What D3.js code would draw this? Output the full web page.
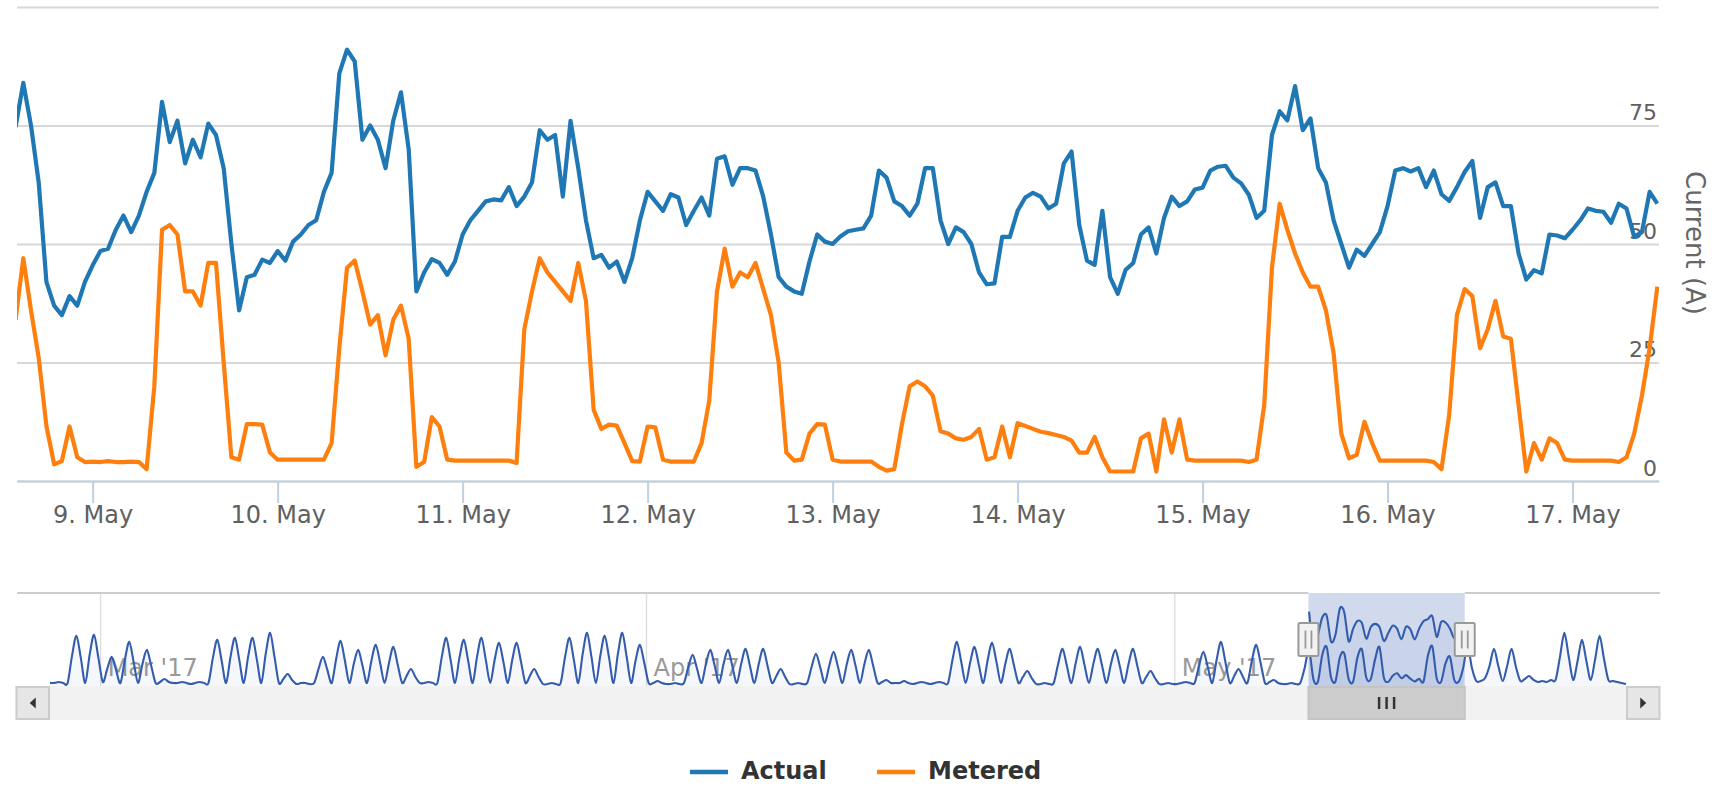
<!DOCTYPE html>
<html>
<head>
<meta charset="utf-8">
<script src="https://cdn.jsdelivr.net/npm/d3@7"></script>
<style>
  body { margin: 0; background: #fff; }
  #chart { width: 1736px; height: 786px; }
  text { font-family: "DejaVu Sans", sans-serif; }
</style>
</head>
<body>
<div id="chart"></div>
<script>
const HOUR = 3600 * 1000;

// Hourly readings (A), first value at 8 May 2017 14:00 UTC
const seriesStart = Date.UTC(2017, 4, 8, 14);
const viewRange = [Date.UTC(2017, 4, 8, 14, 11), Date.UTC(2017, 4, 17, 11, 13)];

const actualValues = [
    74.7, 84, 75, 63, 42, 37, 35, 39, 37, 42,
    45.5, 48.5, 49, 53, 56, 52.5, 56, 61, 65, 80,
    71.5, 76, 67, 72, 68.3, 75.4, 73, 66, 50, 36,
    43, 43.5, 46.7, 46, 48.5, 46.5, 50.5, 52, 54, 55,
    61, 65, 86, 91, 88.5, 72, 75, 72, 66, 76,
    82, 70, 40, 44, 46.8, 46, 43.5, 46.3, 52, 55,
    57, 59, 59.4, 59.2, 62, 58, 60, 63, 74, 72,
    73, 60, 76, 66, 55, 47, 47.7, 45, 46.3, 42,
    47, 55, 61, 59, 57, 60.5, 59.8, 54, 57, 59.8,
    56, 68, 68.5, 62.5, 66, 66, 65.5, 60, 52, 43,
    41, 40, 39.5, 46.3, 52, 50.5, 50, 51.6, 52.7, 53,
    53.3, 56, 65.5, 64, 59, 58, 56, 58.5, 66, 66,
    55, 50, 53.5, 52.5, 50, 44, 41.5, 41.7, 51.5, 51.5,
    57, 59.8, 60.8, 60, 57.5, 58.5, 67, 69.5, 54, 46.5,
    45.6, 57, 43, 39.5, 44.5, 46, 52, 53.5, 48, 55.5,
    60, 58, 59, 61.5, 61.9, 65.5, 66.3, 66.5, 64, 62.8,
    60.4, 55.5, 57, 73, 78, 76.1, 83.3, 74, 76.5, 66,
    63, 55, 50, 45, 48.8, 47.5, 50, 52.5, 58, 65.5,
    66, 65.3, 66, 62, 65.5, 60.5, 59.1, 62, 65.2, 67.5,
    55.5, 62, 63, 58, 58, 48, 42.5, 44.5, 43.8, 52,
    51.8, 51.2, 53, 55, 57.5, 57, 56.8, 54.5, 58.5, 57.5,
    51.5, 52.5, 61, 58.5
];

const meteredValues = [
    34, 47, 36, 26, 11.6, 3.5, 4.2, 11.5, 5, 4,
    4.1, 4, 4.2, 4, 4, 4.1, 4, 2.5, 20, 53,
    54, 52, 40, 40, 37, 46, 46, 25, 5, 4.5,
    12, 12, 11.9, 6, 4.5, 4.5, 4.5, 4.5, 4.5, 4.5,
    4.5, 8, 28, 45, 46.5, 40, 33, 35, 26.5, 34,
    37, 30, 3, 4, 13.5, 11.5, 4.5, 4.3, 4.3, 4.3,
    4.3, 4.3, 4.3, 4.3, 4.3, 3.8, 32, 40, 47, 44,
    42, 40, 38, 46, 38, 15, 11, 11.9, 11.7, 8,
    4.2, 4.1, 11.5, 11.3, 4.5, 4.1, 4.1, 4.1, 4.1, 8,
    17, 40, 49, 41, 44, 43, 46, 40.5, 35, 25,
    6, 4.3, 4.5, 10, 12, 11.9, 4.5, 4.1, 4.1, 4.1,
    4.1, 4.1, 3, 2.2, 2.5, 12, 20, 21, 20, 18,
    10.5, 10, 9, 8.7, 9.3, 11, 4.5, 5, 11.5, 5,
    12.2, 11.6, 11, 10.4, 10.1, 9.7, 9.3, 8.5, 6, 6,
    9.3, 5, 2, 2, 2, 2, 9, 10, 2, 13,
    6, 13, 4.5, 4.3, 4.3, 4.3, 4.3, 4.3, 4.3, 4.3,
    4, 4.5, 16, 45, 58.5, 53, 48, 44, 41, 41,
    36, 27, 10, 4.8, 5.5, 12.5, 8, 4.3, 4.3, 4.3,
    4.3, 4.3, 4.3, 4.3, 4, 2.5, 14, 35, 40.5, 39,
    28, 32, 38, 30.5, 30, 16, 2, 8, 4.5, 9,
    8, 4.5, 4.3, 4.3, 4.3, 4.3, 4.3, 4.3, 4, 5,
    10, 18, 28, 41
];

const yTicks = [0, 25, 50, 75, 100];
const seriesNames = ['Actual', 'Metered'];

// Navigator history, one value every 6 hours (03, 09, 15, 21 h), from 26 Feb 03:00
const navBeforeStart = Date.UTC(2017, 1, 26, 3);
const navBeforeValues = [
    3, 3, 4, 3,   3, 30, 50, 28,   3, 31, 51, 28,
    4, 17, 29, 16,   3, 26, 44, 24,   3, 22, 36, 20,   3, 4, 7, 4,   3, 3, 4, 3,
    2, 3, 4, 3,   3, 28, 46, 25,   3, 29, 48, 26,   3, 29, 48, 26,   3, 32, 53, 29,   3, 7, 12, 6,   2, 3, 3, 2,
    3, 17, 29, 16,   3, 27, 45, 25,   3, 22, 36, 20,   3, 25, 41, 23,   3, 23, 39, 21,   3, 10, 17, 9,   3, 3, 4, 3,
    3, 29, 48, 26,   3, 28, 46, 25,   3, 29, 48, 26,   3, 26, 43, 24,   3, 26, 43, 24,   3, 10, 17, 9,   2, 2, 3, 2,
    3, 29, 48, 26,   3, 32, 53, 29,   3, 30, 50, 28,   3, 32, 53, 29,   3, 25, 41, 23,   3, 3, 5, 3,   2, 2, 3, 2,
    3, 19, 31, 17,   3, 22, 36, 20,   3, 22, 36, 20,   3, 22, 37, 20,   3, 22, 37, 20,   3, 10, 17, 9,   2, 2, 3, 2,
    3, 19, 32, 18,   3, 20, 34, 19,   3, 22, 36, 20,   3, 22, 36, 20,   3, 4, 6, 3,   3, 3, 5, 3,   2, 3, 4, 3,
    2, 3, 4, 3,   3, 26, 44, 24,   3, 23, 39, 21,   3, 26, 43, 24,   3, 22, 37, 20,   3, 9, 15, 8,   2, 2, 3, 2,
    3, 22, 37, 20,   3, 23, 39, 21,   3, 22, 37, 20,   3, 22, 36, 20,   3, 22, 37, 20,   3, 9, 15, 8,   2, 2, 3, 2,
    2, 3, 4, 3,   3, 20, 34, 19,   3, 26, 44, 24,   3, 10, 17, 9,   3, 25, 41, 23,   3, 4, 6, 3,   2, 2, 3, 2,
    3, 18
];

// Navigator history after the loaded range, from 17 May 15:00
const navAfterStart = Date.UTC(2017, 4, 17, 15);
const navAfterValues = [
    40, 18,
    5, 5, 8, 20,   37, 20, 5, 20,   37, 19, 5, 7,   10, 6, 4, 5,
    4, 6, 6, 29,   53, 29, 6, 25,   46, 25, 6, 27,   50, 27, 6, 5,
    4, 3, 2
];

const config = {
    colors: ['#1f77b4', '#ff7f0e'],
    gridColor: '#d8d8d8',
    axisColor: '#c0d0e0',
    labelColor: '#606060',
    navLine: '#335cad',
    maskFill: 'rgba(102,133,194,0.3)'
};

class CurrentChart {
    constructor(containerId) {
        this.width = 1736;
        this.height = 786;
        this.plot = { left: 17, right: 1659, top: 7, bottom: 481 };
        this.nav = { left: 50, right: 1626, top: 593, bottom: 686, barBottom: 720, outerLeft: 15.5, outerRight: 1660 };

        this.svg = d3.select(`#${containerId}`).append('svg')
            .attr('width', this.width)
            .attr('height', this.height)
            .style('background', '#fff');
    }

    render() {
        this._drawMain();
        this._drawNavigator();
        this._drawLegend();
    }

    _hourly(values) {
        return values.map((v, i) => ({ t: new Date(seriesStart + i * HOUR), v }));
    }

    _sixHourly(start, values) {
        return values.map((v, i) => ({ t: new Date(start + i * 6 * HOUR), v }));
    }

    // mean of the hourly readings in 6 hour buckets, like the navigator's data grouping
    _group(values) {
        const bins = d3.rollups(this._hourly(values), g => d3.mean(g, d => d.v),
            d => Math.floor(d.t.getTime() / (6 * HOUR)));
        return bins.map(([k, v]) => ({ t: new Date(k * 6 * HOUR + 3 * HOUR), v }));
    }

    _drawMain() {
        const p = this.plot;
        const svg = this.svg;

        const x = d3.scaleUtc().domain(viewRange).range([p.left, p.right]);
        const y = d3.scaleLinear().domain([0, 100]).range([p.bottom, p.top]);

        // grid + right hand labels
        const yAxis = svg.append('g')
            .attr('transform', `translate(${p.left},0)`)
            .call(d3.axisRight(y).tickValues(yTicks).tickSize(p.right - p.left));
        yAxis.select('.domain').remove();
        yAxis.selectAll('line').attr('stroke', config.gridColor).attr('stroke-width', 2);
        yAxis.selectAll('text')
            .attr('x', p.right - p.left - 2)
            .attr('dy', null)
            .attr('y', -6)
            .attr('text-anchor', 'end')
            .attr('fill', config.labelColor)
            .style('font-size', '22px')
            .style('font-family', '"DejaVu Sans", sans-serif');
        yAxis.selectAll('.tick').filter(d => d === 100).select('text').remove();

        svg.append('text')
            .attr('transform', `translate(1686,243) rotate(90)`)
            .attr('text-anchor', 'middle')
            .attr('fill', '#666')
            .style('font-size', '26px')
            .text('Current (A)');

        // x axis
        const xAxis = svg.append('g')
            .attr('transform', `translate(0,${p.bottom})`)
            .call(d3.axisBottom(x)
                .ticks(d3.utcDay.every(1))
                .tickFormat(d3.utcFormat('%-d. %b'))
                .tickSize(22)
                .tickSizeOuter(0)
                .tickPadding(3));
        xAxis.select('.domain').attr('stroke', config.axisColor).attr('stroke-width', 2);
        xAxis.selectAll('line').attr('stroke', config.axisColor).attr('stroke-width', 2);
        xAxis.selectAll('text')
            .attr('fill', config.labelColor)
            .style('font-size', '24px')
            .style('font-family', '"DejaVu Sans", sans-serif');

        svg.append('clipPath').attr('id', 'plot-clip')
            .append('rect')
            .attr('x', p.left).attr('y', 0)
            .attr('width', p.right - p.left).attr('height', p.bottom + 8);

        const line = d3.line()
            .x(d => x(d.t))
            .y(d => y(d.v));

        [actualValues, meteredValues].forEach((values, i) => {
            svg.append('path')
                .datum(this._hourly(values))
                .attr('clip-path', 'url(#plot-clip)')
                .attr('d', line)
                .attr('fill', 'none')
                .attr('stroke', config.colors[i])
                .attr('stroke-width', 4.2)
                .attr('stroke-linejoin', 'round');
        });
    }

    _drawNavigator() {
        const n = this.nav;
        const svg = this.svg;

        const meteredNav = [
            ...this._sixHourly(navBeforeStart, navBeforeValues),
            ...this._group(meteredValues),
            ...this._sixHourly(navAfterStart, navAfterValues)
        ];
        const actualNav = this._group(actualValues);

        const nx = d3.scaleUtc()
            .domain(d3.extent(meteredNav, d => d.t))
            .range([n.left, n.right]);
        const maxNav = d3.max([...meteredNav, ...actualNav], d => d.v);
        const ny = d3.scaleLinear().domain([0, maxNav * 1.2]).range([n.bottom, n.top]);

        const maskL = nx(viewRange[0]);
        const maskR = nx(viewRange[1]);

        // mask
        svg.append('rect')
            .attr('x', maskL).attr('y', n.top)
            .attr('width', maskR - maskL).attr('height', n.bottom - n.top)
            .attr('fill', config.maskFill);

        // month grid + labels
        const months = nx.ticks(d3.utcMonth.every(1));
        const fmt = d3.utcFormat("%b '%y");
        const g = svg.append('g');
        g.selectAll('line.month')
            .data(months)
            .enter()
            .append('line')
            .attr('class', 'month')
            .attr('x1', d => nx(d)).attr('x2', d => nx(d))
            .attr('y1', n.top).attr('y2', n.bottom)
            .attr('stroke', '#dcdcdc')
            .attr('stroke-width', 1.3);
        g.selectAll('text.month')
            .data(months)
            .enter()
            .append('text')
            .attr('class', 'month')
            .attr('x', d => nx(d) + 7)
            .attr('y', n.bottom - 10)
            .attr('fill', '#999')
            .style('font-size', '24px')
            .text(d => fmt(d));

        // top outline
        [[n.outerLeft + 1.5, maskL], [maskR, n.outerRight]].forEach(([a, b]) => {
            svg.append('line')
                .attr('x1', a).attr('x2', b)
                .attr('y1', n.top).attr('y2', n.top)
                .attr('stroke', '#cccccc')
                .attr('stroke-width', 2);
        });

        const area = d3.area()
            .x(d => nx(d.t))
            .y0(ny(0))
            .y1(d => ny(d.v))
            .curve(d3.curveCardinal.tension(0.1));

        [meteredNav, actualNav].forEach(data => {
            svg.append('path')
                .datum(data)
                .attr('d', area)
                .attr('fill', config.navLine)
                .attr('fill-opacity', 0.05);
            svg.append('path')
                .datum(data)
                .attr('d', area.lineY1())
                .attr('fill', 'none')
                .attr('stroke', config.navLine)
                .attr('stroke-width', 2.1);
        });

        // scrollbar
        const barH = n.barBottom - n.bottom;
        svg.append('rect')
            .attr('x', n.outerLeft).attr('y', n.bottom)
            .attr('width', n.outerRight - n.outerLeft).attr('height', barH)
            .attr('fill', '#f2f2f2');
        svg.append('rect')
            .attr('x', maskL).attr('y', n.bottom + 1)
            .attr('width', maskR - maskL).attr('height', barH - 2)
            .attr('fill', '#cccccc')
            .attr('stroke', '#c4c4c4')
            .attr('stroke-width', 2);
        const cx = (maskL + maskR) / 2;
        [-7.5, 0, 7.5].forEach(dx => {
            svg.append('line')
                .attr('x1', cx + dx).attr('x2', cx + dx)
                .attr('y1', n.bottom + 11).attr('y2', n.bottom + 23)
                .attr('stroke', '#333')
                .attr('stroke-width', 2.5);
        });

        // scrollbar buttons with arrows
        const btnW = n.left - n.outerLeft;
        [[n.outerLeft, -1], [n.right, 1]].forEach(([bx, dir]) => {
            svg.append('rect')
                .attr('x', bx + 1).attr('y', n.bottom + 1)
                .attr('width', btnW - 2).attr('height', barH - 2)
                .attr('fill', '#e6e6e6')
                .attr('stroke', '#cccccc')
                .attr('stroke-width', 2);
            const ax = bx + btnW / 2;
            const ay = n.bottom + barH / 2;
            svg.append('path')
                .attr('d', `M${ax + 3 * dir},${ay} L${ax - 3 * dir},${ay - 5.5} L${ax - 3 * dir},${ay + 5.5} Z`)
                .attr('fill', '#333');
        });

        // handles
        const hy = (n.top + n.bottom) / 2;
        [maskL, maskR].forEach(hx => {
            svg.append('rect')
                .attr('x', hx - 10).attr('y', hy - 16.5)
                .attr('width', 20).attr('height', 33)
                .attr('rx', 1.5)
                .attr('fill', '#f2f2f2')
                .attr('stroke', '#999')
                .attr('stroke-width', 2);
            [-3, 3].forEach(dx => {
                svg.append('line')
                    .attr('x1', hx + dx).attr('x2', hx + dx)
                    .attr('y1', hy - 9).attr('y2', hy + 9)
                    .attr('stroke', '#999')
                    .attr('stroke-width', 1.8);
            });
        });
    }

    _drawLegend() {
        const items = [
            { name: seriesNames[0], color: config.colors[0], x: 690 },
            { name: seriesNames[1], color: config.colors[1], x: 877 }
        ];
        const g = this.svg.append('g');
        items.forEach(item => {
            g.append('line')
                .attr('x1', item.x).attr('x2', item.x + 38)
                .attr('y1', 772).attr('y2', 772)
                .attr('stroke', item.color)
                .attr('stroke-width', 4.5);
            g.append('text')
                .attr('x', item.x + 51)
                .attr('y', 779)
                .attr('fill', '#333')
                .attr('font-weight', 'bold')
                .style('font-size', '24px')
                .text(item.name);
        });
    }
}

new CurrentChart('chart').render();
</script>
</body>
</html>
